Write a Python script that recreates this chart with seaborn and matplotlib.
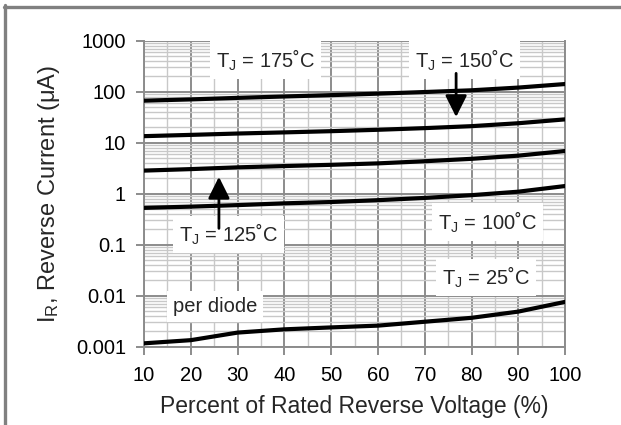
import numpy as np
import pandas as pd
import matplotlib
matplotlib.use("Agg")
import matplotlib.pyplot as plt
from matplotlib.ticker import FixedLocator, MultipleLocator, LogLocator, NullFormatter
from matplotlib.lines import Line2D
import seaborn as sns

# ---- data ----
pct = [10, 20, 30, 40, 50, 60, 70, 80, 90, 100]
ir_175 = [67, 71, 76, 81, 86, 92, 99, 107, 121, 142]
ir_150 = [13.5, 14.3, 15.2, 16.0, 16.9, 18.0, 19.4, 21.2, 24.2, 28.8]
ir_125 = [2.85, 3.05, 3.3, 3.5, 3.7, 3.95, 4.35, 4.85, 5.6, 6.9]
ir_100 = [0.53, 0.56, 0.60, 0.65, 0.69, 0.75, 0.83, 0.94, 1.10, 1.42]
ir_25 = [0.00117, 0.00135, 0.0019, 0.0022, 0.0024, 0.0026, 0.0031, 0.0037, 0.0049, 0.0076]

series = {"175": ir_175, "150": ir_150, "125": ir_125, "100": ir_100, "25": ir_25}
x_ticks = [10, 20, 30, 40, 50, 60, 70, 80, 90, 100]
y_ticks = [0.001, 0.01, 0.1, 1, 10, 100, 1000]
y_tick_labels = ["0.001", "0.01", "0.1", "1", "10", "100", "1000"]

rows = []
for k, v in series.items():
    for xx, yy in zip(pct, v):
        rows.append({"pct": xx, "ir": yy, "tj": k})
df = pd.DataFrame(rows)

sns.set_theme(style="white")
plt.rcParams["font.family"] = ["Liberation Sans", "DejaVu Sans"]
plt.rcParams["mathtext.fontset"] = "custom"
plt.rcParams["mathtext.rm"] = "Liberation Sans"
plt.rcParams["mathtext.it"] = "Liberation Sans"

fig = plt.figure(figsize=(6.21, 4.25), dpi=100)
ax = fig.add_axes([0.232, 0.184, 0.678, 0.720])

sns.lineplot(data=df, x="pct", y="ir", hue="tj", palette=["black"] * 5,
             legend=False, lw=3.0, ax=ax, zorder=5)

ax.set_yscale("log")
ax.set_xlim(10, 100)
ax.set_ylim(0.001, 1000)
ax.xaxis.set_major_locator(FixedLocator(x_ticks))
ax.xaxis.set_minor_locator(MultipleLocator(5))
ax.yaxis.set_major_locator(FixedLocator(y_ticks))
ax.yaxis.set_minor_locator(LogLocator(base=10, subs=np.arange(2, 10)))
ax.yaxis.set_minor_formatter(NullFormatter())
ax.set_yticklabels(y_tick_labels)
ax.set_xticklabels([str(t) for t in x_ticks])

ax.grid(which="major", color="#8c8c8c", lw=1.4, zorder=1)
ax.grid(which="minor", color="#c8c8c8", lw=1.0, zorder=0)
ax.set_axisbelow(True)
for s in ["left", "right", "bottom", "top"]:
    ax.spines[s].set_color("#8c8c8c")
    ax.spines[s].set_linewidth(1.4)
ax.spines["top"].set_visible(False)

ax.tick_params(axis="both", which="major", direction="out", length=6, width=1.4,
               color="#8c8c8c", labelsize=14.5, labelcolor="black",
               left=True, bottom=True)
ax.tick_params(axis="y", which="major", pad=7)
ax.tick_params(axis="x", which="major", pad=8)
ax.tick_params(axis="both", which="minor", length=0)

ax.set_xlabel("Percent of Rated Reverse Voltage (%)", fontsize=16.5, labelpad=7)
ax.set_ylabel("I$_\\mathregular{R}$, Reverse Current (\u03bcA)", fontsize=17, labelpad=10)

box = dict(boxstyle="square,pad=0.3", fc="white", ec="none")
fs = 14.5
ax.text(36, 420, "T$_\\mathregular{J}$ = 175\u02daC", fontsize=fs, ha="center", va="center", bbox=box, zorder=6)
ax.text(78.4, 420, "T$_\\mathregular{J}$ = 150\u02daC", fontsize=fs, ha="center", va="center", bbox=box, zorder=6)
ax.text(28, 0.16, "T$_\\mathregular{J}$ = 125\u02daC", fontsize=fs, ha="center", va="center", bbox=box, zorder=6)
ax.text(83.5, 0.28, "T$_\\mathregular{J}$ = 100\u02daC", fontsize=fs, ha="center", va="center", bbox=box, zorder=6)
ax.text(83, 0.023, "T$_\\mathregular{J}$ = 25\u02daC", fontsize=fs, ha="center", va="center", bbox=box, zorder=6)
ax.text(25.2, 0.0062, "per diode", fontsize=fs, ha="center", va="center", bbox=box, zorder=6)

arrow = dict(arrowstyle="-|>,head_length=1.1,head_width=0.55", color="black", lw=2.0,
             shrinkA=0, shrinkB=0)
ax.annotate("", xy=(76.7, 32), xytext=(76.7, 230), arrowprops=arrow, zorder=7)
ax.annotate("", xy=(26, 2.15), xytext=(26, 0.21), arrowprops=arrow, zorder=7)

# outer frame (left and top)
fig.add_artist(Line2D([4.5 / 621, 4.5 / 621], [0, 1 - 5 / 425], transform=fig.transFigure,
                      color="#808080", lw=2.4))
fig.add_artist(Line2D([3.5 / 621, 1], [1 - 6.5 / 425, 1 - 6.5 / 425], transform=fig.transFigure,
                      color="#808080", lw=2.4))

fig.savefig("out.png", dpi=100)
